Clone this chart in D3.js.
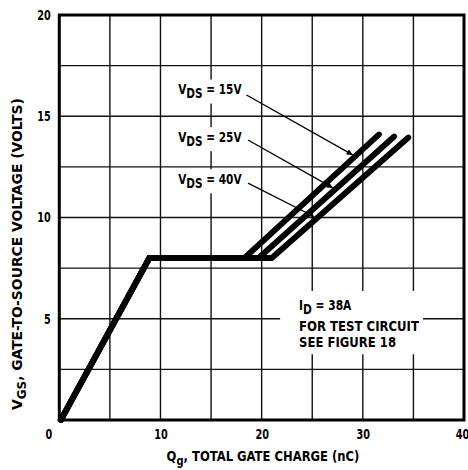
<!DOCTYPE html>
<html><head><meta charset="utf-8">
<script src="https://cdn.jsdelivr.net/npm/d3@7"></script>
<style>
html,body{margin:0;padding:0;background:#fff;}
svg{display:block;}
text{font-family:"Liberation Sans Narrow","DejaVu Sans Condensed","Roboto Condensed",Arial,sans-serif;font-weight:bold;fill:#000;}
</style></head><body>
<svg id="chart" width="468" height="470"></svg>
<script>
// ---- data ----
const xTickValues = [0, 10, 20, 30, 40];
const yTickValues = [5, 10, 15, 20];
const xGridValues = [0, 5, 10, 15, 20, 25, 30, 35, 40];
const yGridValues = [0, 2.5, 5, 7.5, 10, 12.5, 15, 17.5, 20];

const seriesNames = ["15V", "25V", "40V"];
const qg15 = [0.15, 8.9, 18.3, 31.6];
const vgs15 = [0, 8, 8, 14.1];
const qg25 = [0.15, 8.9, 19.7, 33.1];
const vgs25 = [0, 8, 8, 14.0];
const qg40 = [0.15, 8.9, 21.0, 34.5];
const vgs40 = [0, 8, 8, 13.95];

const labelQ = [11.75, 11.75, 11.75];
const labelV = [16.08, 13.73, 11.65];
const arrowStartQ = [18.5, 18.65, 18.65];
const arrowStartV = [16.05, 13.83, 11.7];
const arrowEndQ = [29.0, 27.04, 25.17];
const arrowEndV = [13.09, 11.46, 10.05];

const noteLines = [["I", "D", " = 38A"], ["FOR TEST CIRCUIT"], ["SEE FIGURE 18"]];
const noteQ = 23.7;
const noteV = [5.43, 4.4, 3.6];

// ---- helpers ----
function squeeze(node, target, anchor) {
  const b = node.getBBox();
  const k = target / b.width;
  const ax = anchor === "middle" ? b.x + b.width / 2 : anchor === "end" ? b.x + b.width : b.x;
  const prev = node.getAttribute("transform") || "";
  node.setAttribute("transform", `${prev} translate(${ax},0) scale(${k},1) translate(${-ax},0)`);
}

// ---- chart ----
const svg = d3.select("#chart");
const x = d3.scaleLinear().domain([0, 40]).range([59.3, 464]);
const y = d3.scaleLinear().domain([0, 20]).range([420, 15]);

// grid
const grid = svg.append("g").attr("stroke", "#111").attr("stroke-width", 1.4);
grid.selectAll("line.v").data(xGridValues).join("line")
  .attr("x1", d => x(d)).attr("x2", d => x(d))
  .attr("y1", y(0)).attr("y2", y(20));
grid.selectAll("line.h").data(yGridValues).join("line")
  .attr("y1", d => y(d)).attr("y2", d => y(d))
  .attr("x1", x(0)).attr("x2", x(40));

// border
svg.append("rect")
  .attr("x", x(0)).attr("y", y(20))
  .attr("width", x(40) - x(0)).attr("height", y(0) - y(20))
  .attr("fill", "none").attr("stroke", "#000").attr("stroke-width", 3);

// axes
const xAxis = svg.append("g").attr("transform", `translate(0,${y(0)})`)
  .call(d3.axisBottom(x).tickValues(xTickValues).tickSize(0).tickPadding(9).tickFormat(d3.format("d")));
xAxis.select(".domain").remove();
xAxis.selectAll("text").attr("font-size", 13.5).style("font-family", null)
  .attr("dx", d => d === 0 ? -11 : d === 40 ? -2 : 0)
  .each(function () { squeeze(this, this.getBBox().width * 0.8, "middle"); });

const yAxis = svg.append("g").attr("transform", `translate(${x(0)},0)`)
  .call(d3.axisLeft(y).tickValues(yTickValues).tickSize(0).tickPadding(8.5).tickFormat(d3.format("d")));
yAxis.select(".domain").remove();
yAxis.selectAll("text").attr("font-size", 13.5).style("font-family", null)
  .each(function () { squeeze(this, this.getBBox().width * 0.8, "end"); });

// axis titles
const xt = svg.append("text").attr("x", 263).attr("y", 461)
  .attr("text-anchor", "middle").attr("font-size", 14);
xt.append("tspan").text("Q");
xt.append("tspan").attr("dy", 4).attr("font-size", 12).text("g");
xt.append("tspan").attr("dy", -4).text(", TOTAL GATE CHARGE (nC)");
squeeze(xt.node(), 193, "middle");

const ytG = svg.append("g").attr("transform", "translate(22,254) rotate(-90)");
const yt = ytG.append("text").attr("x", 0).attr("y", 0)
  .attr("text-anchor", "middle").attr("font-size", 14);
yt.append("tspan").text("V");
yt.append("tspan").attr("dy", 4).attr("font-size", 12).text("GS");
yt.append("tspan").attr("dy", -4).text(", GATE-TO-SOURCE VOLTAGE (VOLTS)");
squeeze(yt.node(), 312, "middle");

// labels with white backgrounds
const labelG = svg.append("g");
seriesNames.forEach((n, i) => {
  const t = labelG.append("text").attr("x", x(labelQ[i])).attr("y", y(labelV[i])).attr("font-size", 13.5);
  t.append("tspan").text("V");
  t.append("tspan").attr("dy", 4).text("DS");
  t.append("tspan").attr("dy", -4).text(" = " + n);
  squeeze(t.node(), 64, "start");
  const b = t.node().getBBox();
  labelG.insert("rect", "text").attr("x", b.x - 3).attr("y", b.y - 2)
    .attr("width", 64 + 6).attr("height", b.height + 4).attr("fill", "#fff");
});

const noteG = svg.append("g");
const noteW = [53, 120, 97];
noteLines.forEach((parts, i) => {
  const t = noteG.append("text").attr("x", x(noteQ)).attr("y", y(noteV[i])).attr("font-size", 14.5);
  if (parts.length === 3) {
    t.append("tspan").text(parts[0]);
    t.append("tspan").attr("dy", 4).text(parts[1]);
    t.append("tspan").attr("dy", -4).text(parts[2]);
  } else {
    t.text(parts[0]);
  }
  squeeze(t.node(), noteW[i], "start");
});
const nb = noteG.node().getBBox();
noteG.insert("rect", "text").attr("x", x(noteQ) - 19).attr("y", nb.y - 6)
  .attr("width", d3.max(noteW) + 23).attr("height", nb.height + 10).attr("fill", "#fff");

// curves
const line = d3.line().x(d => x(d[0])).y(d => y(d[1]));
const series = [d3.zip(qg15, vgs15), d3.zip(qg25, vgs25), d3.zip(qg40, vgs40)];
svg.append("g").selectAll("path").data(series).join("path")
  .attr("d", line).attr("fill", "none").attr("stroke", "#000")
  .attr("stroke-width", 5.8).attr("stroke-linecap", "round").attr("stroke-linejoin", "miter");

// arrows
svg.append("defs").append("marker").attr("id", "ah")
  .attr("viewBox", "0 0 10 10").attr("refX", 10).attr("refY", 5)
  .attr("markerWidth", 9).attr("markerHeight", 6).attr("markerUnits", "userSpaceOnUse")
  .attr("orient", "auto")
  .append("path").attr("d", "M0,0 L10,5 L0,10 z").attr("fill", "#000");
svg.append("g").selectAll("line").data(seriesNames).join("line")
  .attr("x1", (d, i) => x(arrowStartQ[i])).attr("y1", (d, i) => y(arrowStartV[i]))
  .attr("x2", (d, i) => x(arrowEndQ[i])).attr("y2", (d, i) => y(arrowEndV[i]))
  .attr("stroke", "#000").attr("stroke-width", 1.3).attr("marker-end", "url(#ah)");
</script>
</body></html>
